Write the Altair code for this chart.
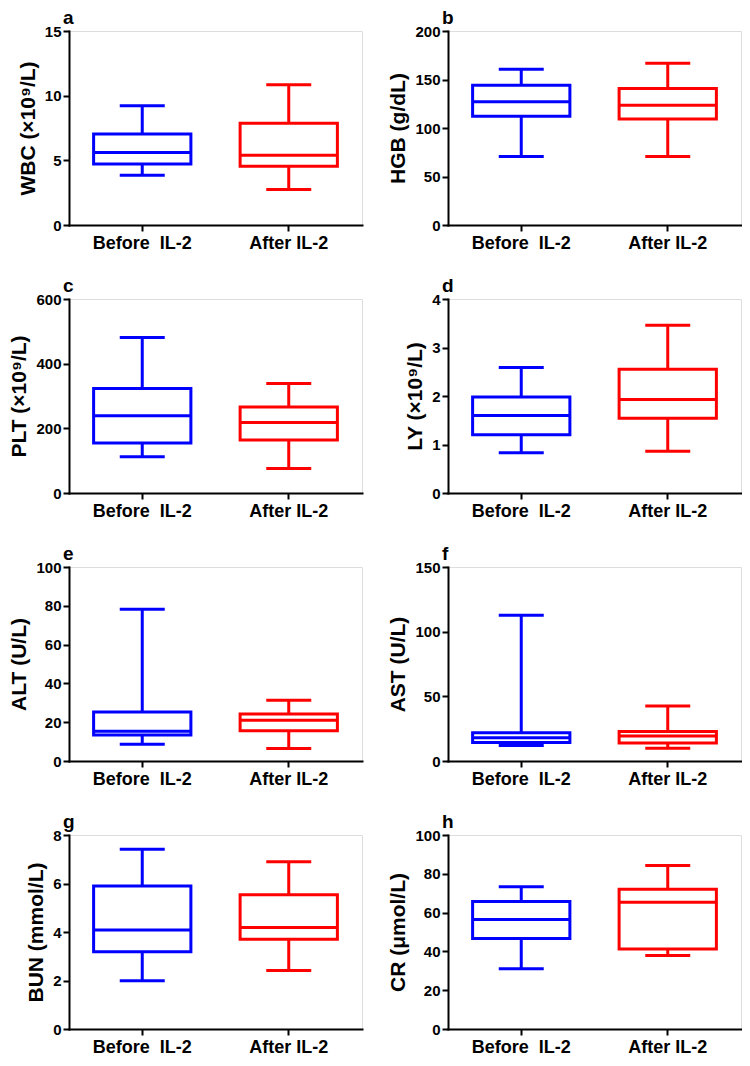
import altair as alt
import pandas as pd

groups = ["Before\u00a0 IL-2", "After IL-2"]
colors = ["#0000ff", "#ff0000"]

letters = ["a", "b", "c", "d", "e", "f", "g", "h"]
titles = ["WBC (×10⁹/L)", "HGB (g/dL)", "PLT (×10⁹/L)", "LY (×10⁹/L)",
          "ALT (U/L)", "AST (U/L)", "BUN (mmol/L)", "CR (μmol/L)"]
y_max = [15, 200, 600, 4, 100, 150, 8, 100]
y_ticks = [[0, 5, 10, 15], [0, 50, 100, 150, 200], [0, 200, 400, 600],
           [0, 1, 2, 3, 4], [0, 20, 40, 60, 80, 100], [0, 50, 100, 150],
           [0, 2, 4, 6, 8], [0, 20, 40, 60, 80, 100]]

# [min, Q1, median, Q3, max] for Before, After
wbc = [[3.85, 4.71, 5.61, 7.03, 9.23], [2.74, 4.55, 5.40, 7.86, 10.84]]
hgb = [[70.7, 112, 127, 144, 160.5], [70.7, 109.4, 123.5, 140.6, 166.7]]
plt_ = [[112, 155, 239, 323, 481], [76, 164, 218, 266, 339]]
ly = [[0.83, 1.20, 1.60, 1.98, 2.59], [0.86, 1.54, 1.93, 2.55, 3.46]]
alt_ = [[8.6, 13.4, 15.3, 25.3, 78.2], [6.5, 15.6, 21.0, 24.2, 31.3]]
ast = [[11.9, 14.4, 18.0, 21.9, 112.6], [9.8, 13.9, 19.3, 22.9, 42.5]]
bun = [[1.99, 3.19, 4.08, 5.90, 7.41], [2.41, 3.70, 4.19, 5.54, 6.90]]
cr = [[31.0, 46.7, 56.4, 65.7, 73.3], [37.9, 41.2, 65.3, 72.1, 84.3]]

all_stats = [wbc, hgb, plt_, ly, alt_, ast, bun, cr]

FONT = "Liberation Sans"


def panel(i):
    stats = all_stats[i]
    df = pd.DataFrame({
        "group": groups,
        "lo": [s[0] for s in stats],
        "q1": [s[1] for s in stats],
        "med": [s[2] for s in stats],
        "q3": [s[3] for s in stats],
        "hi": [s[4] for s in stats],
    })
    x = alt.X("group:N", sort=groups,
              scale=alt.Scale(paddingInner=0, paddingOuter=0),
              axis=alt.Axis(title=None, labelAngle=0, labelFontSize=18,
                            labelFontWeight="bold", labelColor="black",
                            labelPadding=3, tickSize=6, tickWidth=2,
                            tickColor="black", domainColor="black",
                            domainWidth=2, domainCap="square", labelFont=FONT,
                            labelOverlap=False))
    yscale = alt.Scale(domain=[0, y_max[i]], nice=False)
    yaxis = alt.Axis(title=titles[i], values=y_ticks[i], grid=False,
                     labelOverlap=False,
                     labelFontSize=15, labelFontWeight="bold",
                     labelColor="black", labelPadding=2, tickSize=6,
                     tickWidth=2, tickColor="black", domainColor="black",
                     domainWidth=2, domainCap="square", titleFontSize=21,
                     titleFontWeight="bold", titleColor="black",
                     titlePadding=6, labelFont=FONT, titleFont=FONT)

    def Y(field):
        return alt.Y(field, scale=yscale, axis=yaxis)

    col = alt.Color("group:N", sort=groups,
                    scale=alt.Scale(domain=groups, range=colors), legend=None)
    base = alt.Chart(df)
    whisk = base.mark_rule(strokeWidth=3, opacity=1).encode(
        x=x, y=Y("lo:Q"), y2="hi:Q", color=col)
    box = base.mark_bar(width=alt.RelativeBandSize(0.664), fill="white",
                        strokeWidth=3, opacity=1).encode(
        x=x, y=Y("q1:Q"), y2="q3:Q",
        stroke=alt.Stroke("group:N", sort=groups,
                          scale=alt.Scale(domain=groups, range=colors),
                          legend=None))
    med = base.mark_tick(size=97, thickness=3, opacity=1).encode(
        x=x, y=Y("med:Q"), color=col)
    cap_hi = base.mark_tick(size=45, thickness=3, opacity=1).encode(
        x=x, y=Y("hi:Q"), color=col)
    cap_lo = base.mark_tick(size=45, thickness=3, opacity=1).encode(
        x=x, y=Y("lo:Q"), color=col)
    return alt.layer(whisk, box, med, cap_hi, cap_lo).properties(
        width=293, height=194,
        title=alt.TitleParams(text=letters[i], anchor="start", frame="group",
                              dx=-6, offset=-19, baseline="alphabetic",
                              fontSize=19, fontWeight="bold", color="black",
                              font=FONT))


chart = alt.concat(*[panel(i) for i in range(8)], columns=2,
                   spacing={"row": 74, "column": 86},
                   bounds="flush",
                   padding={"left": 0, "top": 0, "right": 0, "bottom": 0}
                   ).configure_view(strokeWidth=0).configure_axis(
    labelOverlap=False).configure(font=FONT, background="white")

chart.save("out.html", embed_options={"renderer": "svg", "actions": False})
